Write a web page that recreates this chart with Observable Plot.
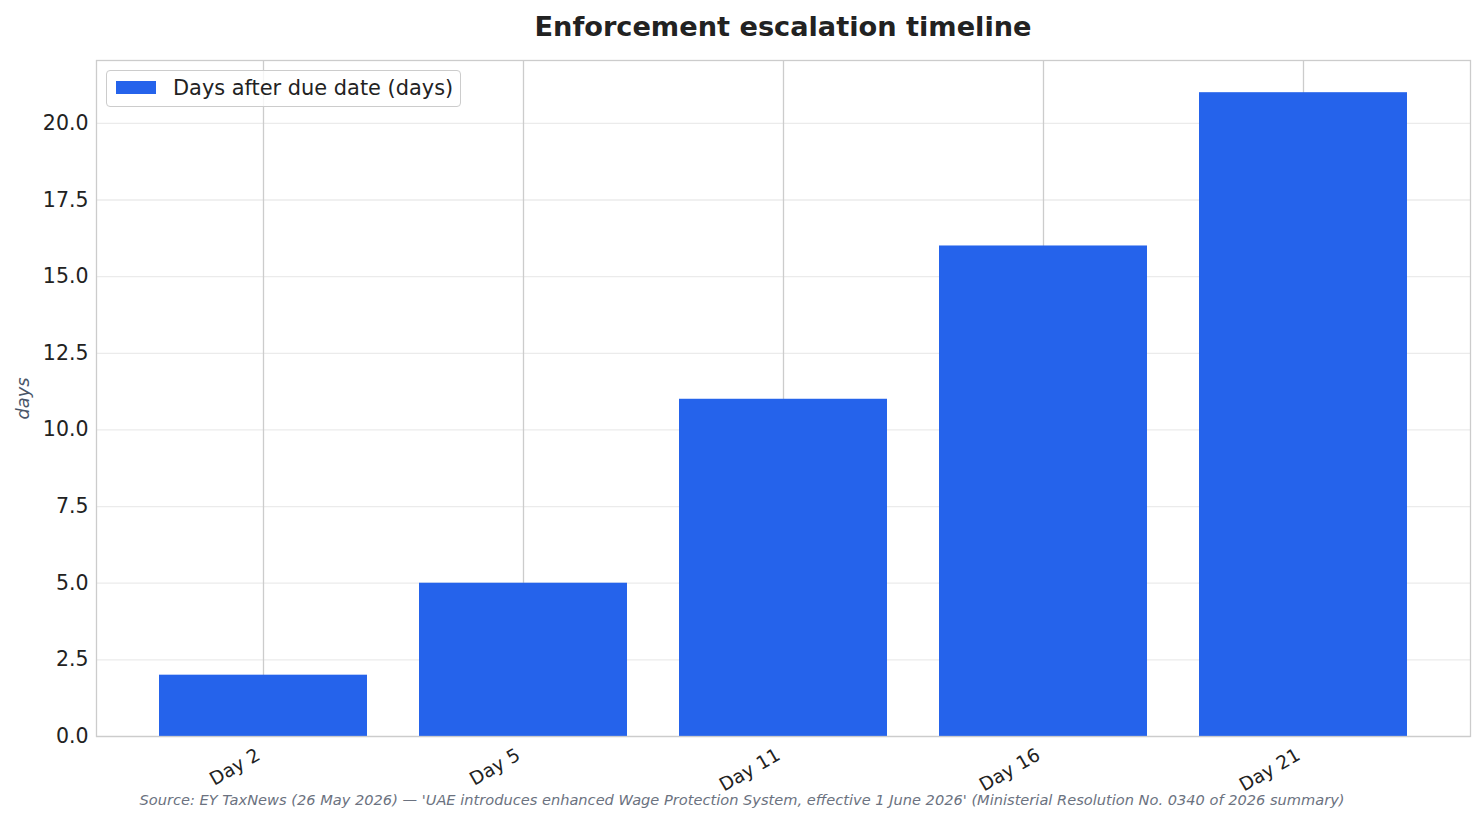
<!DOCTYPE html>
<html><head><meta charset="utf-8">
<script src="https://cdn.jsdelivr.net/npm/d3@7"></script>
<script src="https://cdn.jsdelivr.net/npm/@observablehq/plot@0.6"></script>
<style>
body{margin:0;background:#fff;font-family:"DejaVu Sans",sans-serif;}
#wrap{position:relative;width:1484px;height:823px;overflow:hidden;background:#fff}
#title{height:50px;box-sizing:border-box;padding:4px 14px 0 96px;line-height:46px;text-align:center;font-size:27.2px;font-weight:bold;color:#222}
#chart svg{display:block}
#caption{height:33px;line-height:20px;text-align:center;font-size:14.6px;font-style:italic;color:#6b7280}
#legend{position:absolute;left:106px;top:70px;width:355px;height:37px;box-sizing:border-box;border:1.3px solid #cccccc;border-radius:4px;background:rgba(255,255,255,0.8);}
#legend .sw{position:absolute;left:9px;top:10px;width:40px;height:13px;background:#2563eb}
#legend .lt{position:absolute;left:66px;top:0;line-height:35px;font-size:20.9px;color:#222;white-space:nowrap}
#chart [aria-label="y-axis label"] text{font-style:italic;fill:#4a5568}
</style></head><body>
<div id="wrap">
 <div id="title">Enforcement escalation timeline</div>
 <div id="chart"></div>
 <div id="caption"></div>
 <div id="legend"><div class="sw"></div><div class="lt"></div></div>
</div>
<script>
const categories = ["Day 2", "Day 5", "Day 11", "Day 16", "Day 21"];
const values = [2, 5, 11, 16, 21];
const yTicks = [0, 2.5, 5, 7.5, 10, 12.5, 15, 17.5, 20];
const seriesName = "Days after due date (days)";
const yLabel = "days";
const captionText = "Source: EY TaxNews (26 May 2026) \u2014 'UAE introduces enhanced Wage Protection System, effective 1 June 2026' (Ministerial Resolution No. 0340 of 2026 summary)";

const data = categories.map((c, i) => ({cat: c, value: values[i]}));
const barColor = "#2563eb";

document.querySelector("#legend .lt").textContent = seriesName;
document.getElementById("caption").textContent = captionText;

const chart = Plot.plot({
  width: 1484,
  height: 740,
  marginTop: 10,
  marginBottom: 54,
  marginLeft: 96,
  marginRight: 14,
  style: {fontFamily: "DejaVu Sans, sans-serif", color: "#222", background: "#fff", overflow: "visible"},
  x: {domain: categories, paddingInner: 0.2, paddingOuter: 0.24, align: 0.5},
  y: {domain: [0, 22.05]},
  marks: [
    Plot.gridY(yTicks, {stroke: "#ebebeb", strokeOpacity: 1, strokeWidth: 1.3}),
    Plot.ruleX(categories, {x: d => d, stroke: "#cccccc", strokeWidth: 1.3}),
    Plot.barY(data, {x: "cat", y: "value", fill: barColor}),
    Plot.frame({stroke: "#cccccc", strokeWidth: 1.3}),
    Plot.axisY(yTicks, {tickSize: 0, tickPadding: 8, tickFormat: d => d.toFixed(1), fontSize: 20.5, fill: "#222",
      label: yLabel, labelAnchor: "center", labelArrow: "none", labelOffset: 80}),
    Plot.axisX({tickSize: 0, tickPadding: 17, tickRotate: -30, dx: -5, fontSize: 18.6, fill: "#222", label: null})
  ]
});
chart.querySelectorAll('[aria-label="y-axis label"] text').forEach(t => t.setAttribute("font-size", "17.8"));
document.getElementById("chart").appendChild(chart);
</script>
</body></html>
